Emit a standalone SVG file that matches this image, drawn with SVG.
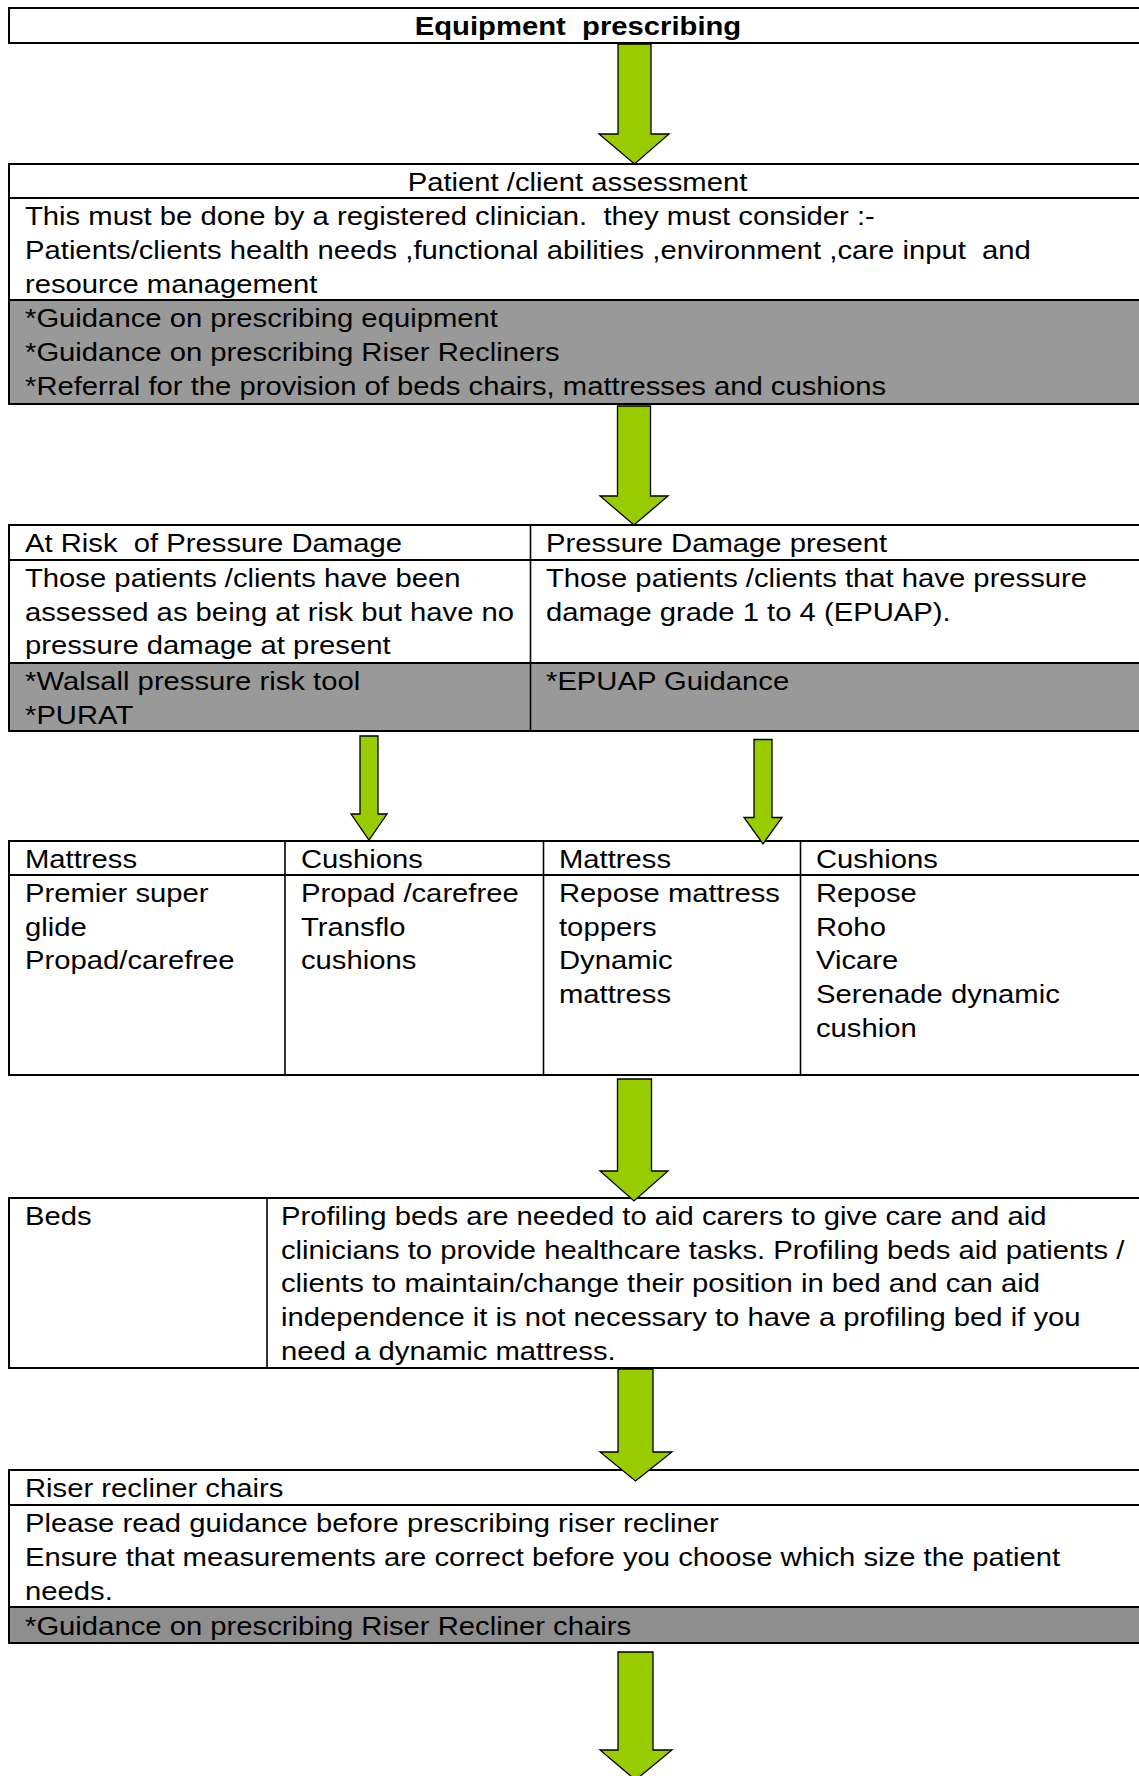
<svg xmlns="http://www.w3.org/2000/svg" width="1139" height="1776" viewBox="0 0 1139 1776">
<style>
.t{font-family:"Liberation Sans",Arial,sans-serif;font-size:26px;fill:#000;white-space:pre}
.b{font-weight:bold}
.box{fill:#fff;stroke:#000;stroke-width:2}
.gray{fill:#999999}
.gray2{fill:#8e8e8e}
.ln{stroke:#000;stroke-width:2;fill:none}
.dv{stroke:#000;stroke-width:1.6;fill:none}
.arr{fill:#99CC00;stroke:#000;stroke-width:1.3;stroke-linejoin:miter}
</style>
<rect x="0" y="0" width="1139" height="1776" fill="#fff"/>

<g id="title">
<rect class="box" x="9" y="8" width="1145" height="35"/>
<text class="t b" text-anchor="middle" transform="matrix(1.125 0 0 1 578 35)">Equipment  prescribing</text>
</g>

<g id="assessment">
<rect class="box" x="9" y="164" width="1145" height="240"/>
<rect class="gray" x="9" y="300" width="1145" height="104"/>
<line class="ln" x1="9" y1="198" x2="1154" y2="198"/>
<line class="ln" x1="9" y1="300" x2="1154" y2="300"/>
<rect class="box" x="9" y="164" width="1145" height="240" fill="none" style="fill:none"/>
<text class="t" text-anchor="middle" transform="matrix(1.125 0 0 1 577.5 191)">Patient /client assessment</text>
<text class="t" transform="matrix(1.125 0 0 1 25 225)"><tspan x="0" y="0">This must be done by a registered clinician.  they must consider :-</tspan><tspan x="0" y="34">Patients/clients health needs ,functional abilities ,environment ,care input  and</tspan><tspan x="0" y="68">resource management</tspan></text>
<text class="t" transform="matrix(1.125 0 0 1 25 327)"><tspan x="0" y="0">*Guidance on prescribing equipment</tspan><tspan x="0" y="34">*Guidance on prescribing Riser Recliners</tspan><tspan x="0" y="68">*Referral for the provision of beds chairs, mattresses and cushions</tspan></text>
</g>

<g id="pressure">
<rect class="box" x="9" y="525" width="1145" height="206"/>
<rect class="gray" x="9" y="663" width="1145" height="68"/>
<line class="ln" x1="9" y1="560" x2="1154" y2="560"/>
<line class="ln" x1="9" y1="663" x2="1154" y2="663"/>
<line class="dv" x1="530.5" y1="525" x2="530.5" y2="731"/>
<rect class="box" x="9" y="525" width="1145" height="206" style="fill:none"/>
<g id="at-risk">
<text class="t" transform="matrix(1.125 0 0 1 25 552)">At Risk  of Pressure Damage</text>
<text class="t" transform="matrix(1.125 0 0 1 25 587)"><tspan x="0" y="0">Those patients /clients have been</tspan><tspan x="0" y="33.7">assessed as being at risk but have no</tspan><tspan x="0" y="67.4">pressure damage at present</tspan></text>
<text class="t" transform="matrix(1.125 0 0 1 25 690)"><tspan x="0" y="0">*Walsall pressure risk tool</tspan><tspan x="0" y="33.7">*PURAT</tspan></text>
</g>
<g id="damage-present">
<text class="t" transform="matrix(1.125 0 0 1 546 552)">Pressure Damage present</text>
<text class="t" transform="matrix(1.125 0 0 1 546 587)"><tspan x="0" y="0">Those patients /clients that have pressure</tspan><tspan x="0" y="33.7">damage grade 1 to 4 (EPUAP).</tspan></text>
<text class="t" transform="matrix(1.125 0 0 1 546 690)">*EPUAP Guidance</text>
</g>
</g>

<g id="products">
<rect class="box" x="9" y="841" width="1145" height="234"/>
<line class="ln" x1="9" y1="875" x2="1154" y2="875"/>
<line class="dv" x1="285" y1="841" x2="285" y2="1075"/>
<line class="dv" x1="543.5" y1="841" x2="543.5" y2="1075"/>
<line class="dv" x1="800.5" y1="841" x2="800.5" y2="1075"/>
<text class="t" transform="matrix(1.125 0 0 1 25 868)">Mattress</text>
<text class="t" transform="matrix(1.125 0 0 1 301 868)">Cushions</text>
<text class="t" transform="matrix(1.125 0 0 1 559 868)">Mattress</text>
<text class="t" transform="matrix(1.125 0 0 1 816 868)">Cushions</text>
<text class="t" transform="matrix(1.125 0 0 1 25 902)"><tspan x="0" y="0">Premier super</tspan><tspan x="0" y="33.7">glide</tspan><tspan x="0" y="67.4">Propad/carefree</tspan></text>
<text class="t" transform="matrix(1.125 0 0 1 301 902)"><tspan x="0" y="0">Propad /carefree</tspan><tspan x="0" y="33.7">Transflo</tspan><tspan x="0" y="67.4">cushions</tspan></text>
<text class="t" transform="matrix(1.125 0 0 1 559 902)"><tspan x="0" y="0">Repose mattress</tspan><tspan x="0" y="33.7">toppers</tspan><tspan x="0" y="67.4">Dynamic</tspan><tspan x="0" y="101.1">mattress</tspan></text>
<text class="t" transform="matrix(1.125 0 0 1 816 902)"><tspan x="0" y="0">Repose</tspan><tspan x="0" y="33.7">Roho</tspan><tspan x="0" y="67.4">Vicare</tspan><tspan x="0" y="101.1">Serenade dynamic</tspan><tspan x="0" y="134.8">cushion</tspan></text>
</g>

<g id="beds">
<rect class="box" x="9" y="1198" width="1145" height="170"/>
<line class="dv" x1="267" y1="1198" x2="267" y2="1368"/>
<text class="t" transform="matrix(1.125 0 0 1 25 1225)">Beds</text>
<text class="t" transform="matrix(1.125 0 0 1 281 1225)"><tspan x="0" y="0">Profiling beds are needed to aid carers to give care and aid</tspan><tspan x="0" y="33.7">clinicians to provide healthcare tasks. Profiling beds aid patients /</tspan><tspan x="0" y="67.4">clients to maintain/change their position in bed and can aid</tspan><tspan x="0" y="101.1">independence it is not necessary to have a profiling bed if you</tspan><tspan x="0" y="134.8">need a dynamic mattress.</tspan></text>
</g>

<g id="riser">
<rect class="box" x="9" y="1470" width="1145" height="173"/>
<rect class="gray2" x="9" y="1607" width="1145" height="36"/>
<line class="ln" x1="9" y1="1505" x2="1154" y2="1505"/>
<line class="ln" x1="9" y1="1607" x2="1154" y2="1607"/>
<rect class="box" x="9" y="1470" width="1145" height="173" style="fill:none"/>
<text class="t" transform="matrix(1.125 0 0 1 25 1497)">Riser recliner chairs</text>
<text class="t" transform="matrix(1.125 0 0 1 25 1532)"><tspan x="0" y="0">Please read guidance before prescribing riser recliner</tspan><tspan x="0" y="34">Ensure that measurements are correct before you choose which size the patient</tspan><tspan x="0" y="68">needs.</tspan></text>
<text class="t" transform="matrix(1.125 0 0 1 25 1635)">*Guidance on prescribing Riser Recliner chairs</text>
</g>

<g id="connectors">
<polygon class="arr" points="618,44 651,44 651,134 669,134 634.5,164 599,134 618,134"/>
<polygon class="arr" points="617.5,406 650.5,406 650.5,496 668,496 634,525 600,496 617.5,496"/>
<polygon class="arr" points="360,736 378,736 378,814 387,814 369,840 351,814 360,814"/>
<polygon class="arr" points="754,739.5 772,739.5 772,817.5 782,817.5 763,844 744,817.5 754,817.5"/>
<polygon class="arr" points="617.5,1079 651.5,1079 651.5,1171 668,1171 634,1201 600,1171 617.5,1171"/>
<polygon class="arr" points="618,1369 653,1369 653,1452 672,1452 635.5,1481 600,1452 618,1452"/>
<polygon class="arr" points="618,1652 653,1652 653,1750 672,1750 635.5,1780 600,1750 618,1750"/>
</g>
</svg>
